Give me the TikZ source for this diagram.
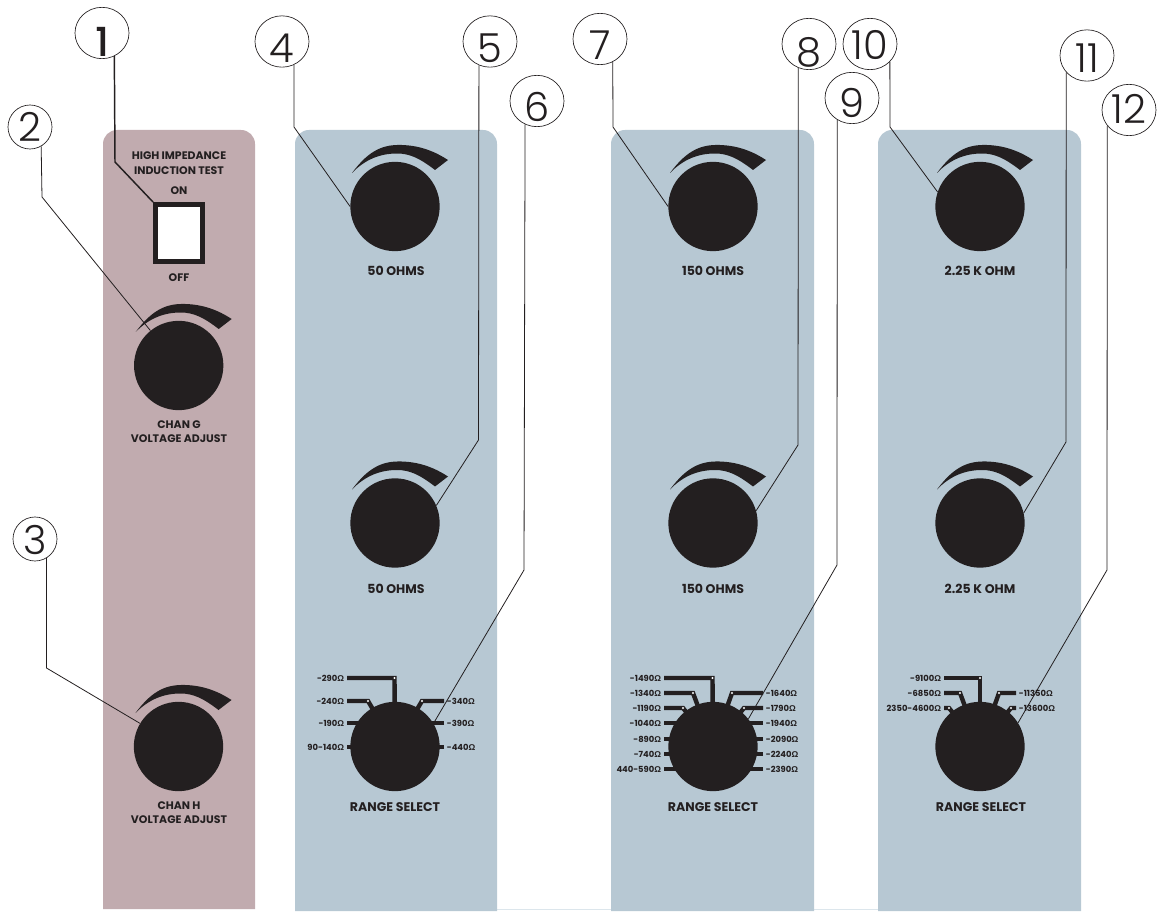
\documentclass[tikz,border=0pt]{standalone}
\usepackage{tikz}
\usepackage{fontspec}
\usetikzlibrary{shapes.geometric}
\setmainfont{Poppins}
\newfontfamily\numfont{Poppins Light}
\newfontfamily\onefont{Poppins Medium}
\newfontfamily\ohmfont{Liberation Sans}
\definecolor{mypink}{HTML}{C1ABAF}
\definecolor{myblue}{HTML}{B7C8D3}
\definecolor{myedge}{HTML}{DCE6EC}
\definecolor{myblack}{HTML}{231F20}
\newcommand{\ohmsign}{{\ohmfont\bfseries Ω}}
\newcommand{\numtext}[2]{\raisebox{-#1}[0pt][0pt]{#2}}
\newcommand{\knobarc}[1]{\fill[myblack, shift={(#1.center)}] (-43,-33.5) .. controls (-25,-58) and (-10,-62) .. (6.7,-61.5) .. controls (25,-61) and (40,-55) .. (53,-46.5) -- (40,-36.5) .. controls (25,-48) and (15,-53) .. (2,-53) .. controls (-15,-53) and (-30,-47) .. (-43,-33.5) -- cycle;}
\newcommand{\bentstub}[3]{\draw[stub] (#1) -- ++(#2,0) coordinate (stubbend) -- (#3.center); \fill[white] (stubbend) circle (1.2);}
\newcommand{\flatstub}[2]{\draw[stub] (#1) -- (#1 -| #2.center);}
\tikzset{
  knob/.style={circle, fill=myblack, minimum size=67pt, inner sep=0pt},
  callout/.style={ellipse, draw=myblack, line width=0.5pt, fill=white, minimum width=40.5pt, minimum height=38.5pt, inner sep=0pt, text=myblack, font=\fontsize{30pt}{30pt}\numfont},
  smallcallout/.style={callout, minimum width=33pt, minimum height=33pt},
  leader/.style={draw=myblack, line width=0.6pt},
  stub/.style={draw=myblack, line width=3.3pt},
  panelbox/.style={rounded corners=10.5pt},
  panellabel/.style={text=myblack, align=center, inner sep=0pt, font=\fontsize{9.4pt}{11.2pt}\selectfont\bfseries},
  smalllabel/.style={text=myblack, align=center, inner sep=0pt, font=\fontsize{8.2pt}{10.8pt}\selectfont\bfseries},
  rangeleft/.style={anchor=east, text=myblack, inner sep=0pt, inner xsep=2pt, font=\fontsize{6.3pt}{6.3pt}\selectfont\bfseries},
  rangeright/.style={anchor=west, text=myblack, inner sep=0pt, inner xsep=2pt, font=\fontsize{6.3pt}{6.3pt}\selectfont\bfseries}
}
\begin{document}
\begin{tikzpicture}[x=0.75pt, y=-0.75pt]%
\useasboundingbox (0,0) rectangle (1164,912);%
\draw[myedge, line width=0.8pt] (497,909.5) -- (611,909.5);%
\draw[myedge, line width=0.8pt] (814,909.5) -- (878,909.5);%
\fill[mypink, panelbox] (103,909) -- (103,130) -- (255,130) -- (255,909);%
\fill[myblue, panelbox] (295,911) -- (295,130) -- (497,130) -- (497,911);%
\fill[myblue, panelbox] (611,911) -- (611,130) -- (814,130) -- (814,911);%
\fill[myblue, panelbox] (878,911) -- (878,130) -- (1081,130) -- (1081,911);%
\node[draw=myblack, fill=white, line width=3.75pt, minimum width=35.25pt, minimum height=42.75pt, inner sep=0pt] (switch) at (179,233) {};%
\node[knob] (knobG) at (178.7,365.5) {};%
\node[knob] (knobH) at (178.5,746.5) {};%
\node[knob] (knobAa) at (395,206.5) {};%
\node[knob] (knobAb) at (395,523) {};%
\node[knob] (knobAc) at (395,746.5) {};%
\node[knob] (knobBa) at (713,206.5) {};%
\node[knob] (knobBb) at (713,523) {};%
\node[knob] (knobBc) at (713,746.5) {};%
\node[knob] (knobCa) at (980,206.5) {};%
\node[knob] (knobCb) at (980,523) {};%
\node[knob] (knobCc) at (980,746.5) {};%
\knobarc{knobG}%
\knobarc{knobH}%
\knobarc{knobAa}%
\knobarc{knobAb}%
\knobarc{knobBa}%
\knobarc{knobBb}%
\knobarc{knobCa}%
\knobarc{knobCb}%
\node[smalllabel] (testlabel) at (179,163) {HIGH IMPEDANCE\\INDUCTION TEST};%
\node[smalllabel] (onlabel) at (179,191) {ON};%
\node[smalllabel] (offlabel) at (179,278) {OFF};%
\node[smalllabel] (labelG) at (179,431.5) {CHAN G\\VOLTAGE ADJUST};%
\node[smalllabel] (labelH) at (179,812.5) {CHAN H\\VOLTAGE ADJUST};%
\node[panellabel] (labelAa) at (396,271) {50 OHMS};%
\node[panellabel] (labelAb) at (396,589) {50 OHMS};%
\node[panellabel] (labelAc) at (395,807) {RANGE SELECT};%
\node[panellabel] (labelBa) at (713,271) {150 OHMS};%
\node[panellabel] (labelBb) at (713,589) {150 OHMS};%
\node[panellabel] (labelBc) at (713,807) {RANGE SELECT};%
\node[panellabel] (labelCa) at (980,271) {2.25 K OHM};%
\node[panellabel] (labelCb) at (980,589) {2.25 K OHM};%
\node[panellabel] (labelCc) at (981,807) {RANGE SELECT};%
\node[rangeleft] (rAa) at (347,678) {-290\ohmsign};%
\node[rangeleft] (rAb) at (347,701) {-240\ohmsign};%
\node[rangeleft] (rAc) at (347,723) {-190\ohmsign};%
\node[rangeleft] (rAd) at (347,747) {90-140\ohmsign};%
\node[rangeright] (rAe) at (444,701) {-340\ohmsign};%
\node[rangeright] (rAf) at (444,723) {-390\ohmsign};%
\node[rangeright] (rAg) at (444,747) {-440\ohmsign};%
\bentstub{rAa.east}{47.5}{knobAc}%
\bentstub{rAb.east}{21}{knobAc}%
\flatstub{rAc.east}{knobAc}%
\flatstub{rAd.east}{knobAc}%
\bentstub{rAe.west}{-22}{knobAc}%
\flatstub{rAf.west}{knobAc}%
\flatstub{rAg.west}{knobAc}%
\node[rangeleft] (rBa) at (664,678) {-1490\ohmsign};%
\node[rangeleft] (rBb) at (664,693) {-1340\ohmsign};%
\node[rangeleft] (rBc) at (664,708) {-1190\ohmsign};%
\node[rangeleft] (rBd) at (664,723) {-1040\ohmsign};%
\node[rangeleft] (rBe) at (664,739) {-890\ohmsign};%
\node[rangeleft] (rBf) at (664,754) {-740\ohmsign};%
\node[rangeleft] (rBg) at (664,769) {440-590\ohmsign};%
\node[rangeright] (rBh) at (763,693) {-1640\ohmsign};%
\node[rangeright] (rBi) at (763,708) {-1790\ohmsign};%
\node[rangeright] (rBj) at (763,723) {-1940\ohmsign};%
\node[rangeright] (rBk) at (763,739) {-2090\ohmsign};%
\node[rangeright] (rBl) at (763,754) {-2240\ohmsign};%
\node[rangeright] (rBm) at (763,769) {-2390\ohmsign};%
\bentstub{rBa.east}{48.5}{knobBc}%
\bentstub{rBb.east}{29}{knobBc}%
\bentstub{rBc.east}{19}{knobBc}%
\flatstub{rBd.east}{knobBc}%
\flatstub{rBe.east}{knobBc}%
\flatstub{rBf.east}{knobBc}%
\flatstub{rBg.east}{knobBc}%
\bentstub{rBh.west}{-31}{knobBc}%
\bentstub{rBi.west}{-19}{knobBc}%
\flatstub{rBj.west}{knobBc}%
\flatstub{rBk.west}{knobBc}%
\flatstub{rBl.west}{knobBc}%
\flatstub{rBm.west}{knobBc}%
\node[rangeleft] (rCa) at (944,678) {-9100\ohmsign};%
\node[rangeleft] (rCb) at (944,693) {-6850\ohmsign};%
\node[rangeleft] (rCc) at (944,708) {2350-4600\ohmsign};%
\node[rangeright] (rCd) at (1016,693) {-11350\ohmsign};%
\node[rangeright] (rCe) at (1016,708) {-13600\ohmsign};%
\bentstub{rCa.east}{36}{knobCc}%
\bentstub{rCb.east}{16}{knobCc}%
\bentstub{rCc.east}{5}{knobCc}%
\bentstub{rCd.west}{-17}{knobCc}%
\bentstub{rCe.west}{-5}{knobCc}%
\node[callout, font=\fontsize{30pt}{30pt}\onefont] (numOne) at (102,33) {\numtext{18pt}{1}};%
\node[smallcallout] (numTwo) at (30,127) {\numtext{11pt}{2}};%
\node[smallcallout] (numThree) at (35,539) {\numtext{12pt}{3}};%
\node[callout] (numFour) at (282,41.5) {\numtext{15.4pt}{4}};%
\node[callout] (numFive) at (490,41.5) {\numtext{15.4pt}{5}};%
\node[callout] (numSix) at (537,101) {\numtext{15.7pt}{6}};%
\node[callout] (numSeven) at (600,39) {\numtext{15.7pt}{7}};%
\node[callout] (numEight) at (809,44) {\numtext{17pt}{8}};%
\node[callout] (numNine) at (852,98) {\numtext{15pt}{9}};%
\node[callout] (numTen) at (870,44) {\numtext{12pt}{10}};%
\node[callout] (numEleven) at (1087,55.5) {\numtext{12.7pt}{11}};%
\node[callout] (numTwelve) at (1129,110) {\numtext{10pt}{12}};%
\coordinate (bendOne) at (115,162);%
\coordinate (bendTwo) at (42,197);%
\coordinate (bendThree) at (46.5,668);%
\coordinate (bendFour) at (294,127);%
\coordinate (bendFive) at (478.5,440);%
\coordinate (bendSix) at (524,570);%
\coordinate (bendSeven) at (613,127);%
\coordinate (bendEight) at (798,445);%
\coordinate (bendNine) at (837,565);%
\coordinate (bendTen) at (890,127);%
\coordinate (bendEleven) at (1066,442);%
\coordinate (bendTwelve) at (1107,570);%
\draw[leader, line width=1.1pt] (numOne.-62) -- (bendOne) -- (switch.north west);%
\draw[leader] (numTwo.-60) -- (bendTwo) -- (knobG.129);%
\draw[leader] (numThree.-59) -- (bendThree) -- (knobH.149);%
\draw[leader] (numFour.-63) -- (bendFour) -- (knobAa.180);%
\draw[leader] (numFive.-115) -- (bendFive) -- (knobAb.23);%
\draw[leader] (numSix.-117) -- (bendSix) -- (knobAc.31);%
\draw[leader] (numSeven.-61) -- (bendSeven) -- (knobBa.180);%
\draw[leader] (numEight.-114) -- (bendEight) -- (knobBb.16);%
\draw[leader] (numNine.-124) -- (bendNine) -- (knobBc.38);%
\draw[leader] (numTen.-42) -- (bendTen) -- (knobCa.161);%
\draw[leader] (numEleven.-141) -- (bendEleven) -- (knobCb.13);%
\draw[leader] (numTwelve.-144) -- (bendTwelve) -- (knobCc.32);%
\end{tikzpicture}
\end{document}
